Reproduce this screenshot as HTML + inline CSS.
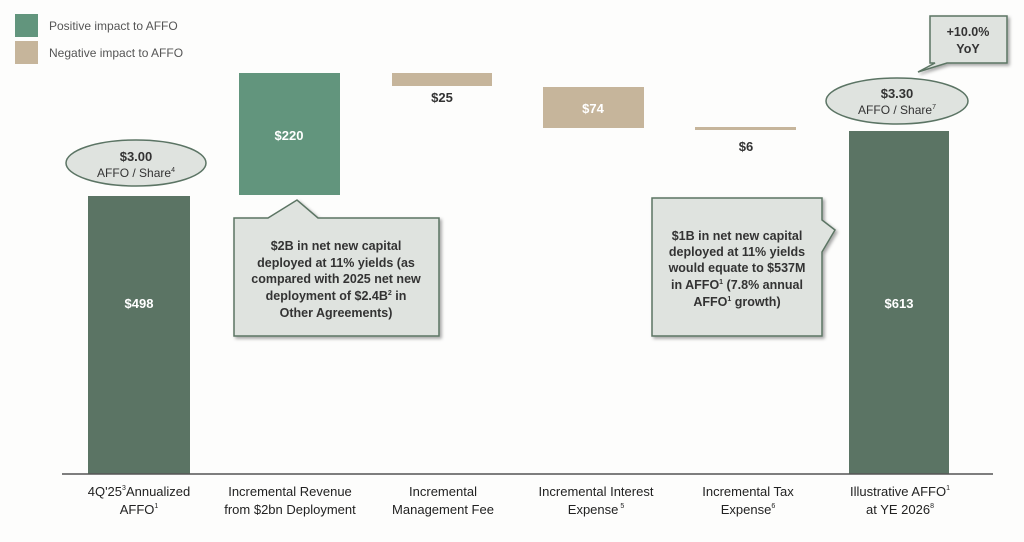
<!DOCTYPE html>
<html><head><meta charset="utf-8"><style>
html,body{margin:0;padding:0;background:#fdfdfc;}
svg{display:block;font-family:"Liberation Sans",Arial,sans-serif;}
</style></head><body>
<svg width="1024" height="542" viewBox="0 0 1024 542" xmlns="http://www.w3.org/2000/svg">
<defs>
<filter id="sh" x="-10%" y="-10%" width="130%" height="130%"><feDropShadow dx="2" dy="2" stdDeviation="1.5" flood-color="#000" flood-opacity="0.35"/></filter>
</defs>
<rect width="1024" height="542" fill="#fdfdfc"/>
<!-- legend -->
<rect x="15" y="14" width="23" height="23" fill="#62957d"/>
<text x="49" y="30" font-size="12" fill="#555">Positive impact to AFFO</text>
<rect x="15" y="41" width="23" height="23" fill="#c6b59b"/>
<text x="49" y="57" font-size="12" fill="#555">Negative impact to AFFO</text>
<!-- bars -->
<rect x="88" y="196" width="102" height="278" fill="#5b7464"/>
<text x="139" y="308" font-size="13" font-weight="bold" fill="#fff" text-anchor="middle">$498</text>
<rect x="239" y="73" width="101" height="122" fill="#62957d"/>
<text x="289" y="140" font-size="13" font-weight="bold" fill="#fff" text-anchor="middle">$220</text>
<rect x="392" y="73" width="100" height="13" fill="#c6b59b"/>
<text x="442" y="102" font-size="13" font-weight="bold" fill="#333" text-anchor="middle">$25</text>
<rect x="543" y="87" width="101" height="41" fill="#c6b59b"/>
<text x="593" y="113" font-size="13" font-weight="bold" fill="#fff" text-anchor="middle">$74</text>
<rect x="695" y="127" width="101" height="3" fill="#c6b59b"/>
<text x="746" y="151" font-size="13" font-weight="bold" fill="#333" text-anchor="middle">$6</text>
<rect x="849" y="131" width="100" height="343" fill="#5b7464"/>
<text x="899" y="308" font-size="13" font-weight="bold" fill="#fff" text-anchor="middle">$613</text>
<!-- axis -->
<line x1="62" y1="474" x2="993" y2="474" stroke="#555" stroke-width="1.5"/>
<!-- ellipses -->
<ellipse cx="136" cy="163" rx="70" ry="23" fill="#dfe3df" stroke="#5b7464" stroke-width="1.5"/>
<text x="136" y="161" font-size="13" font-weight="bold" fill="#333" text-anchor="middle">$3.00</text>
<text x="136" y="177" font-size="12" fill="#333" text-anchor="middle">AFFO / Share<tspan font-size="7" dy="-5">4</tspan></text>
<ellipse cx="897" cy="101" rx="71" ry="23" fill="#dfe3df" stroke="#5b7464" stroke-width="1.5"/>
<text x="897" y="98" font-size="13" font-weight="bold" fill="#333" text-anchor="middle">$3.30</text>
<text x="897" y="114" font-size="12" fill="#333" text-anchor="middle">AFFO / Share<tspan font-size="7" dy="-5">7</tspan></text>
<!-- callout 1 -->
<path d="M234,218 L268,218 L297,200 L318,218 L439,218 L439,336 L234,336 Z" fill="#dfe3df" stroke="#5b7464" stroke-width="1.5" filter="url(#sh)"/>
<g font-size="12.5" font-weight="bold" fill="#333" text-anchor="middle">
<text x="336" y="250">$2B in net new capital</text>
<text x="336" y="267">deployed at 11% yields (as</text>
<text x="336" y="283">compared with 2025 net new</text>
<text x="336" y="300">deployment of $2.4B<tspan font-size="7" dy="-5">2</tspan><tspan dy="5"> in</tspan></text>
<text x="336" y="317">Other Agreements)</text>
</g>
<!-- callout 2 -->
<path d="M652,198 L822,198 L822,220 L835,230 L822,252 L822,336 L652,336 Z" fill="#dfe3df" stroke="#5b7464" stroke-width="1.5" filter="url(#sh)"/>
<g font-size="12.5" font-weight="bold" fill="#333" text-anchor="middle">
<text x="737" y="240">$1B in net new capital</text>
<text x="737" y="256">deployed at 11% yields</text>
<text x="737" y="272">would equate to $537M</text>
<text x="737" y="289">in AFFO<tspan font-size="7" dy="-5">1</tspan><tspan dy="5"> (7.8% annual</tspan></text>
<text x="737" y="306">AFFO<tspan font-size="7" dy="-5">1</tspan><tspan dy="5"> growth)</tspan></text>
</g>
<!-- callout 3 -->
<path d="M930,16 L1007,16 L1007,63 L947,63 L918,72 L935,63 L930,63 Z" fill="#dfe3df" stroke="#5b7464" stroke-width="1.5" filter="url(#sh)"/>
<text x="968" y="36" font-size="12.5" font-weight="bold" fill="#333" text-anchor="middle">+10.0%</text>
<text x="968" y="53" font-size="12.5" font-weight="bold" fill="#333" text-anchor="middle">YoY</text>
<!-- x labels -->
<g font-size="13" fill="#222" text-anchor="middle">
<text x="139" y="496">4Q'25<tspan font-size="7" dy="-6">3</tspan><tspan dy="6">Annualized</tspan></text>
<text x="139" y="514">AFFO<tspan font-size="7" dy="-6">1</tspan></text>
<text x="290" y="496">Incremental Revenue</text>
<text x="290" y="514">from $2bn Deployment</text>
<text x="443" y="496">Incremental</text>
<text x="443" y="514">Management Fee</text>
<text x="596" y="496">Incremental Interest</text>
<text x="596" y="514">Expense<tspan font-size="7" dy="-6"> 5</tspan></text>
<text x="748" y="496">Incremental Tax</text>
<text x="748" y="514">Expense<tspan font-size="7" dy="-6">6</tspan></text>
<text x="900" y="496">Illustrative AFFO<tspan font-size="7" dy="-6">1</tspan></text>
<text x="900" y="514">at YE 2026<tspan font-size="7" dy="-6">8</tspan></text>
</g>
</svg>
</body></html>
